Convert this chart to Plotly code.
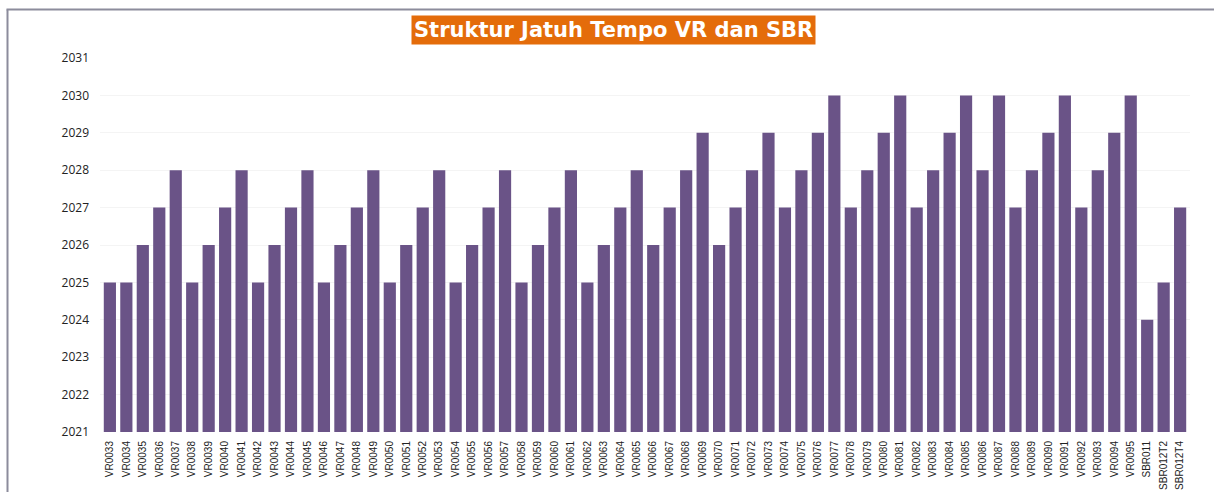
import plotly.graph_objects as go

categories = [f"VR00{n}" for n in range(33, 96)] + ["SBR011", "SBR012T2", "SBR012T4"]
maturity_year = [
    2025, 2025, 2026, 2027, 2028, 2025, 2026, 2027, 2028, 2025,  # 33-42
    2026, 2027, 2028, 2025, 2026, 2027, 2028, 2025, 2026, 2027,  # 43-52
    2028, 2025, 2026, 2027, 2028, 2025, 2026, 2027, 2028, 2025,  # 53-62
    2026, 2027, 2028, 2026, 2027, 2028, 2029, 2026, 2027, 2028,  # 63-72
    2029, 2027, 2028, 2029, 2030, 2027, 2028, 2029, 2030, 2027,  # 73-82
    2028, 2029, 2030, 2028, 2030, 2027, 2028, 2029, 2030, 2027,  # 83-92
    2028, 2029, 2030,                                            # 93-95
    2024, 2025, 2027,                                            # SBR
]
y_min, y_max = 2021, 2031
y_ticks = list(range(2021, 2032))
title_text = "Struktur Jatuh Tempo VR dan SBR"

base = [y_min] * len(categories)
fig = go.Figure(go.Bar(
    x=categories,
    y=[v - y_min for v in maturity_year],
    base=base,
    marker=dict(color="#6a5387", line=dict(width=0)),
    hoverinfo="x+text",
    text=[str(v) for v in maturity_year],
    textposition="none",
))

W, H = 1214, 492
ml, mt = 100, 58
mr = W - 1190
mb = H - 432
pw, ph = W - ml - mr, H - mt - mb

def px_x(p):
    return (p - ml) / pw

def px_y(p):
    return (H - mb - p) / ph

border = "#8c8c9c"
fig.update_layout(
    width=W, height=H,
    margin=dict(l=ml, r=mr, t=mt, b=mb, autoexpand=False),
    paper_bgcolor="white",
    plot_bgcolor="white",
    bargap=0.26,
    showlegend=False,
    font=dict(family="Open Sans, sans-serif", color="#333333"),
    xaxis=dict(
        type="category",
        automargin=False,
        tickangle=-90,
        tickfont=dict(family="Liberation Sans Narrow, Arial Narrow, sans-serif", size=10, color="#222222"),
        showgrid=False,
        showline=False,
        ticks="",
        ticklabelstandoff=6,
        range=[-0.6, len(categories) - 0.4],
    ),
    yaxis=dict(
        range=[y_min, y_max],
        automargin=False,
        tickmode="array",
        tickvals=y_ticks,
        ticktext=[str(t) for t in y_ticks],
        tickfont=dict(family="Open Sans, sans-serif", size=12, color="#222222"),
        showgrid=True,
        gridcolor="#f4f4f4",
        gridwidth=1,
        zeroline=False,
        showline=False,
        ticks="",
        ticklabelstandoff=10,
    ),
    shapes=[
        dict(type="line", xref="paper", yref="paper",
             x0=px_x(7.5), x1=px_x(7.5), y0=px_y(9.5), y1=px_y(H),
             line=dict(color=border, width=2)),
        dict(type="line", xref="paper", yref="paper",
             x0=px_x(6.5), x1=px_x(W), y0=px_y(9.5), y1=px_y(9.5),
             line=dict(color=border, width=2)),
    ],
    annotations=[
        dict(
            text=title_text,
            xref="paper", yref="paper",
            x=px_x(613), y=px_y(30),
            xanchor="center", yanchor="middle",
            showarrow=False,
            font=dict(family="DejaVu Sans, Verdana, sans-serif", size=21, color="white", weight="bold"),
            bgcolor="#e46c0a",
            borderpad=2,
        )
    ],
)

fig.write_html(
    "out.html",
    config={"displayModeBar": False},
    post_script="document.body.style.margin='0';document.body.style.overflow='hidden';",
)
